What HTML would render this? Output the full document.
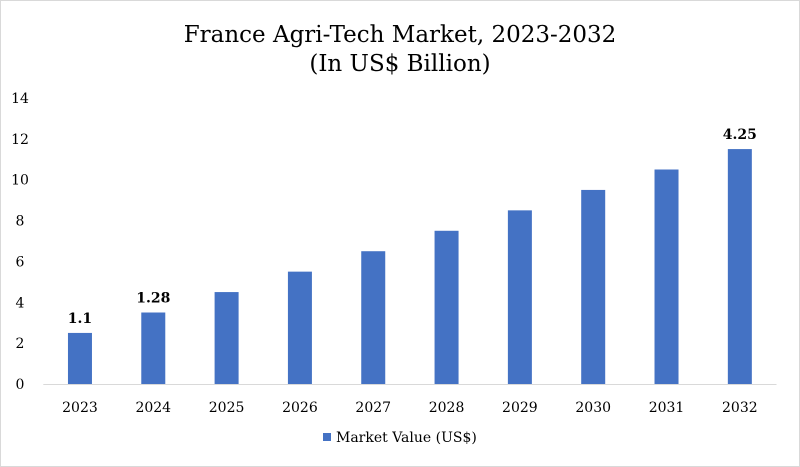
<!DOCTYPE html>
<html><head><meta charset="utf-8"><style>
html,body{margin:0;padding:0;background:#fff}
svg{display:block;font-family:"DejaVu Serif","Liberation Serif",serif}
</style></head><body>
<svg id="chart" width="800" height="467">
<rect x="0.5" y="0.5" width="799" height="466" fill="#fff" stroke="#d9d9d9"/>
<text x="400" y="42" text-anchor="middle" font-size="23" fill="#000">France Agri-Tech Market, 2023-2032</text>
<text x="400" y="71" text-anchor="middle" font-size="23" fill="#000">(In US$ Billion)</text>
<g id="yaxis"></g>
<g id="bars"></g>
<g id="xaxis"></g>
<g>
<rect x="323" y="433" width="8" height="8" fill="#4472c4"/>
<text x="336" y="442" font-size="14" fill="#000">Market Value (US$)</text>
</g>
</svg>
<script>
const categories=["2023","2024","2025","2026","2027","2028","2029","2030","2031","2032"];
const values=[2.5,3.5,4.5,5.5,6.5,7.5,8.5,9.5,10.5,11.5];
const valueLabels=["1.1","1.28","","","","","","","","4.25"];
const yTicks=[0,2,4,6,8,10,12,14];
const ns="http://www.w3.org/2000/svg";
const left=43.3,right=776.5,y0=384,y1=98,yMax=14;
const yScale=v=>y0-(v/yMax)*(y0-y1);
const band=(right-left)/categories.length;
const xCenter=i=>left+band*(i+0.5);
const barW=24;
function mk(tag,attrs,parent){const e=document.createElementNS(ns,tag);for(const k in attrs)e.setAttribute(k,attrs[k]);parent.appendChild(e);return e;}
const ya=document.getElementById('yaxis'),ba=document.getElementById('bars'),xa=document.getElementById('xaxis');
yTicks.forEach(t=>{
 const e=mk('text',{x:20,y:yScale(t)+5,'text-anchor':'middle','font-size':14,fill:'#000'},ya);
 e.textContent=t;
 
 
});
categories.forEach((c,i)=>{
 const cx=xCenter(i);
 const r=mk('rect',{x:cx-barW/2,y:yScale(values[i]),width:barW,height:y0-yScale(values[i]),fill:'#4472c4'},ba);
 
 
 if(valueLabels[i]){
  const l=mk('text',{x:cx,y:yScale(values[i])-10,'text-anchor':'middle','font-size':14,'font-weight':'bold',fill:'#000'},ba);
  l.textContent=valueLabels[i];
  
  
 }
 const t=mk('text',{x:cx,y:412,'text-anchor':'middle','font-size':14,fill:'#000'},xa);
 t.textContent=c;
 
 
});
const ax=mk('line',{x1:left,x2:right,y1:y0+0.5,y2:y0+0.5,stroke:'#d9d9d9','stroke-width':1},xa);


</script>
</body></html>
